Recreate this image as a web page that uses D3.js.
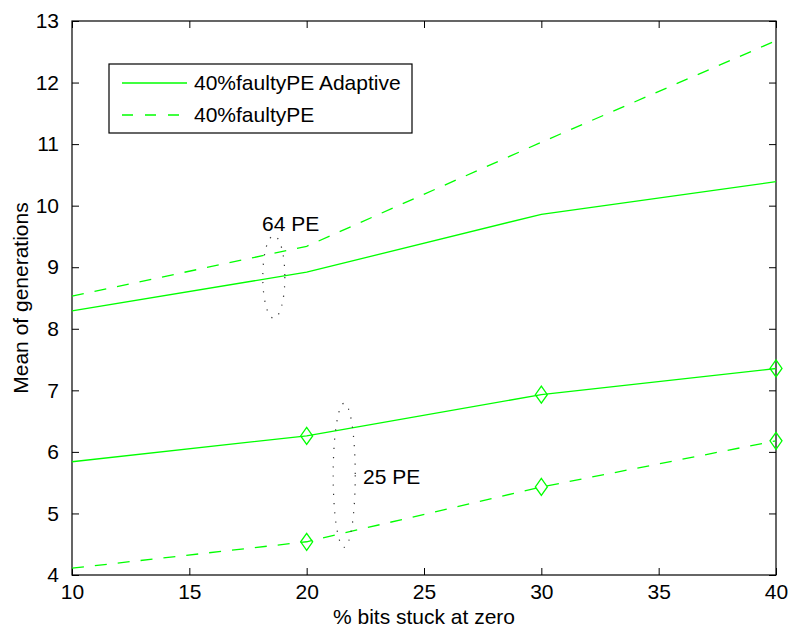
<!DOCTYPE html>
<html><head><meta charset="utf-8">
<script src="https://cdn.jsdelivr.net/npm/d3@7"></script>
<style>body{margin:0;background:#fff}svg{display:block}text{font-family:"Liberation Sans",Arial,sans-serif}</style>
</head><body><svg id="c" width="791" height="633"></svg>
<script>
const xValues = [10, 20, 30, 40];
const pe64Adaptive = [8.29, 8.92, 9.86, 10.39];
const pe64 = [8.53, 9.34, 11.03, 12.68];
const pe25Adaptive = [5.84, 6.26, 6.93, 7.355];
const pe25 = [4.11, 4.54, 5.43, 6.18];
const xTicks = [10, 15, 20, 25, 30, 35, 40];
const yTicks = [4, 5, 6, 7, 8, 9, 10, 11, 12, 13];
const legendLabels = ["40%faultyPE Adaptive", "40%faultyPE"];
const ellipses = [
  {label: "64 PE", cx: 18.6, cy: 8.84, rx: 0.47, ry: 0.67, lx: 18.1, ly: 9.7},
  {label: "25 PE", cx: 21.6, cy: 5.62, rx: 0.47, ry: 1.17, lx: 22.4, ly: 5.6}
];

const svg = d3.select("#c");
const m = {l: 72, r: 776, t: 21, b: 575};
const x = d3.scaleLinear().domain([10, 40]).range([m.l, m.r]);
const y = d3.scaleLinear().domain([4, 13]).range([m.b, m.t]);
const green = "#00ff00";
const fs = 21;

const ax = svg.append("g");
const styleAxis = g => { g.select(".domain").remove(); g.selectAll("line").attr("stroke","#000"); g.selectAll("text").attr("font-size", fs).attr("fill","#000").attr("font-family",'"Liberation Sans",Arial,sans-serif'); };
ax.append("g").attr("transform",`translate(0,${m.b})`).call(d3.axisBottom(x).tickValues(xTicks).tickSize(-7).tickPadding(9)).call(styleAxis);
ax.append("g").attr("transform",`translate(0,${m.t})`).call(d3.axisTop(x).tickValues(xTicks).tickSize(-7).tickFormat("")).call(styleAxis);
ax.append("g").attr("transform",`translate(${m.l},0)`).call(d3.axisLeft(y).tickValues(yTicks).tickSize(-7).tickPadding(13)).call(styleAxis);
ax.append("g").attr("transform",`translate(${m.r},0)`).call(d3.axisRight(y).tickValues(yTicks).tickSize(-7).tickFormat("")).call(styleAxis);
svg.append("rect").attr("x",m.l).attr("y",m.t).attr("width",m.r-m.l).attr("height",m.b-m.t).attr("fill","none").attr("stroke","#000").attr("stroke-width",1.2);

const line = d3.line().x((d,i)=>x(xValues[i])).y(d=>y(d));
const series = [
  {v: pe64Adaptive, dash: null, mk: false},
  {v: pe64, dash: "12,11", mk: false},
  {v: pe25Adaptive, dash: null, mk: true},
  {v: pe25, dash: "12,11", mk: true}
];
series.forEach(s => {
  svg.append("path").attr("d", line(s.v)).attr("fill","none").attr("stroke",green).attr("stroke-width",1.3).attr("stroke-dasharray", s.dash);
  if (s.mk) {
    svg.append("g").selectAll("path").data(s.v.slice(1)).join("path")
      .attr("transform",(d,i)=>`translate(${x(xValues[i+1])},${y(d)})`)
      .attr("d","M0,-8.5L6,0L0,8.5L-6,0Z").attr("fill","none").attr("stroke",green).attr("stroke-width",1.3);
  }
});

ellipses.forEach(e => {
  svg.append("ellipse").attr("cx",x(e.cx)).attr("cy",y(e.cy)).attr("rx",x(e.cx+e.rx)-x(e.cx)).attr("ry",y(e.cy)-y(e.cy+e.ry))
    .attr("fill","none").attr("stroke","#333").attr("stroke-width",1.2).attr("stroke-dasharray","1.2,8");
  svg.append("text").attr("x",x(e.lx)).attr("y",y(e.ly)).attr("dy","0.35em").attr("font-size",fs).text(e.label);
});

const lg = svg.append("g");
lg.append("rect").attr("x",109).attr("y",64).attr("width",303).attr("height",69).attr("fill","#fff").attr("stroke","#000").attr("stroke-width",1.2);
legendLabels.forEach((t,i) => {
  const yy = 83 + i*32;
  lg.append("line").attr("x1",122).attr("x2",187).attr("y1",yy).attr("y2",yy).attr("stroke",green).attr("stroke-width",1.3).attr("stroke-dasharray", i ? "11,12" : null);
  lg.append("text").attr("x",194).attr("y",yy).attr("dy","0.35em").attr("font-size",fs).text(t);
});

svg.append("text").attr("x",(m.l+m.r)/2).attr("y",617).attr("text-anchor","middle").attr("dy","0.35em").attr("font-size",fs).text("% bits stuck at zero");
svg.append("text").attr("transform",`translate(21,${(m.t+m.b)/2}) rotate(-90)`).attr("text-anchor","middle").attr("dy","0.35em").attr("font-size",fs).text("Mean of generations");
</script></body></html>
